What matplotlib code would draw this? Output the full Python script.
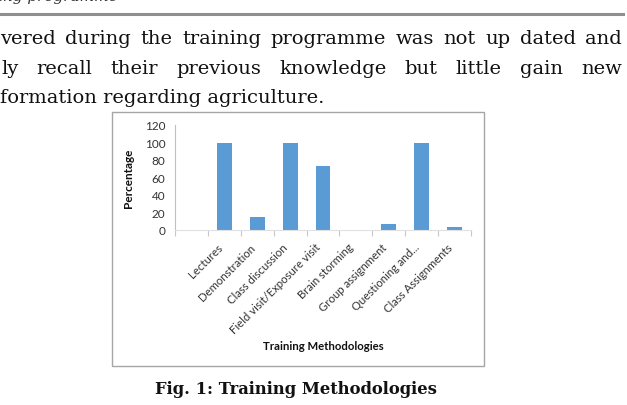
import matplotlib
matplotlib.use("Agg")
import matplotlib.pyplot as plt
from matplotlib.patches import Rectangle
from matplotlib.lines import Line2D
import numpy as np

W, H = 627, 406

# chart data (first category is blank in the original sheet)
categories = ['', 'Lectures', 'Demonstration', 'Class discussion',
              'Field visit/Exposure visit', 'Brain storming', 'Group assignment',
              'Questioning and...', 'Class Assignments']
percentages = [0, 100, 15, 100, 73.3, 0, 6.7, 100, 3.3]
yticks = [0, 20, 40, 60, 80, 100, 120]

# page text around the figure
line1 = "vered during the training programme was not up dated and"
line2 = "ly recall their previous knowledge but little gain new"
line3 = "formation regarding agriculture."
caption = "Fig. 1: Training Methodologies"


def fx(x):
    return x / W


def fy(y):
    return 1 - y / H


fig = plt.figure(figsize=(W / 100, H / 100), dpi=100)
renderer = fig.canvas.get_renderer()

serif = dict(family='DejaVu Serif', size=14, color='#111111', va='baseline')


def justify(text, x0, x1, y):
    words = text.split()
    arts, widths = [], []
    for w in words:
        t = fig.text(0, fy(y), w, **serif)
        arts.append(t)
        widths.append(t.get_window_extent(renderer).width)
    gap = (x1 - x0 - sum(widths)) / (len(words) - 1)
    x = x0
    for t, wd in zip(arts, widths):
        t.set_x(fx(x))
        x += wd + gap


# cut-off header text and rule at the top
fig.text(fx(-2), fy(0.5), "ing programme", family='DejaVu Serif', size=11,
         style='italic', color='#333333', va='baseline')
fig.add_artist(Line2D([fx(0), fx(623)], [fy(15), fy(15)], color='#8f8f8f',
                      lw=2.2, transform=fig.transFigure))

justify(line1, 0, 622, 44)
justify(line2, 1, 622, 74)
fig.text(fx(0), fy(103), line3, **serif)

# chart frame
fig.add_artist(Rectangle((fx(112), fy(367)), fx(484) - fx(112), fy(113) - fy(367),
                         transform=fig.transFigure, fill=False,
                         edgecolor='#a6a6a6', lw=1))

ax = fig.add_axes([fx(175), fy(231), fx(471) - fx(175), fy(126) - fy(231)])
x = np.arange(len(categories))
ax.bar(x, percentages, width=0.45, color='#5b9bd5', linewidth=0)
ax.set_xlim(-0.5, len(categories) - 0.5)
ax.set_ylim(0, 120)
ax.set_yticks(yticks)
ax.tick_params(axis='y', length=0, pad=7, labelsize=8.5, labelcolor='#333333')
ax.set_xticks(x)
ax.set_xticklabels(categories, rotation=45, ha='right', va='top',
                   fontsize=8.2, family='Lato', color='#333333')
ax.tick_params(axis='x', which='major', length=0, pad=8)
ax.set_xticks(np.arange(len(categories) + 1) - 0.5, minor=True)
ax.tick_params(axis='x', which='minor', length=4, color='#c8c8c8', width=0.8)
for lab in ax.get_yticklabels():
    lab.set_family('Lato')

for s in ['top', 'right']:
    ax.spines[s].set_visible(False)
ax.spines['left'].set_color('#c0c0c0')
ax.spines['bottom'].set_color('#e0e0e0')
ax.spines['left'].set_linewidth(0.8)
ax.spines['bottom'].set_linewidth(0.8)

ax.set_ylabel('Percentage', fontsize=8.5, fontweight='bold', family='Lato', color='#111111')
ax.yaxis.set_label_coords((134 - 175) / 296, 0.5)
ax.set_xlabel('Training Methodologies', fontsize=8.2, fontweight='bold',
              family='Lato', color='#111111', va='center')
ax.xaxis.set_label_coords(0.5, (231 - 346) / 105)

fig.text(fx(296), fy(390), caption, family='DejaVu Serif', size=11.8,
         fontweight='bold', color='#111111', ha='center', va='center')

fig.savefig('out.png', dpi=100)
